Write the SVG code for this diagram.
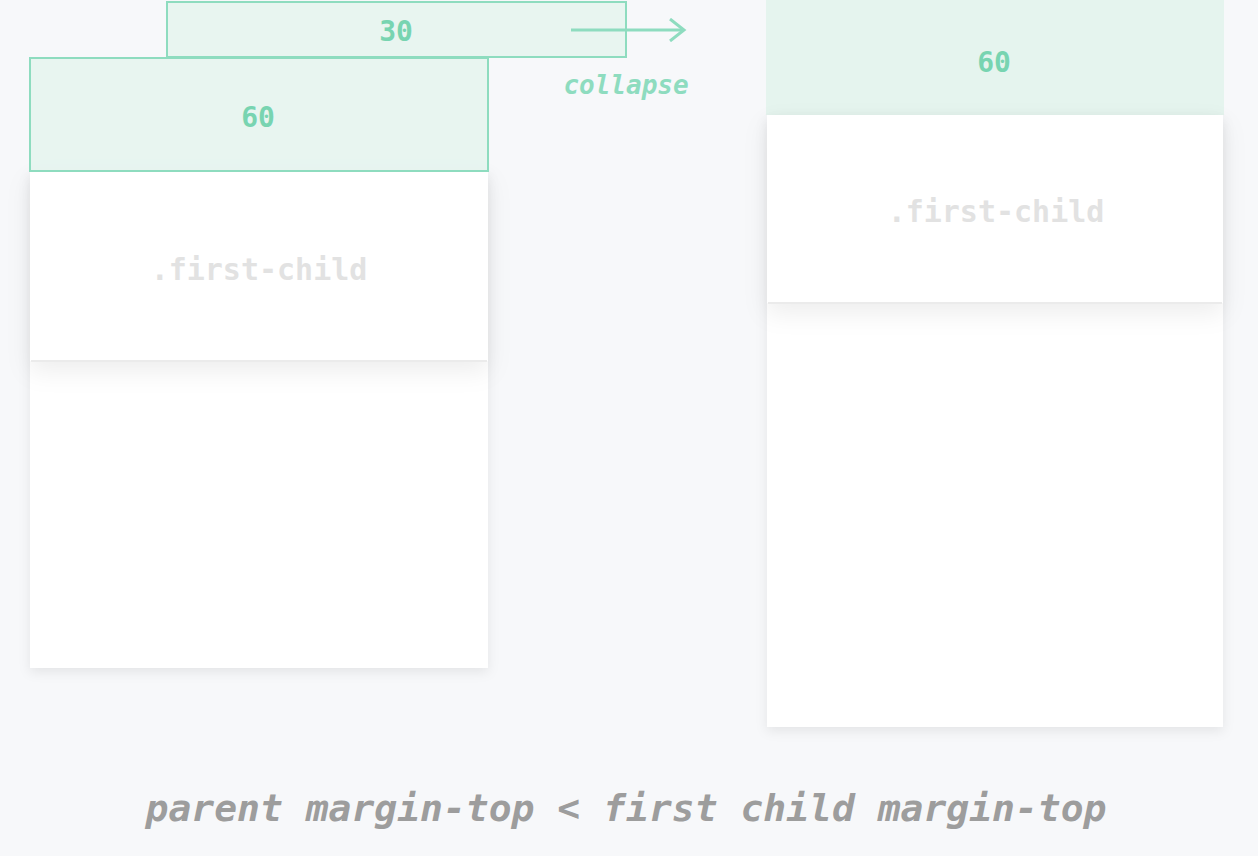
<svg xmlns="http://www.w3.org/2000/svg" width="1258" height="856" viewBox="0 0 1258 856">
<style>
.mono{font-family:"DejaVu Sans Mono","Liberation Mono",monospace;font-weight:bold}
.num{fill:#78d4b1;font-size:28px;text-anchor:middle}
.child{fill:#e2e2e2;font-size:30px;text-anchor:middle}
.margin{fill:#e5f4ee;fill-opacity:0.9;stroke:#8edcbf;stroke-width:2}
.box{fill:#ffffff}
.edge{stroke:#ebebeb;stroke-width:2}
</style>
<defs>
<filter id="sh" x="-10%" y="-10%" width="120%" height="130%">
<feDropShadow dx="0" dy="4" stdDeviation="6" flood-color="#000" flood-opacity="0.08"/>
</filter>
<filter id="sh2" x="-10%" y="-10%" width="120%" height="160%">
<feDropShadow dx="0" dy="10" stdDeviation="12" flood-color="#000" flood-opacity="0.07"/>
</filter>
<marker id="ah" markerWidth="20" markerHeight="24" refX="17" refY="12" orient="auto" markerUnits="userSpaceOnUse">
<path d="M3,1 L17,12 L3,23" fill="none" stroke="#8edcbf" stroke-width="3"/>
</marker>
</defs>
<rect width="1258" height="856" fill="#f7f8fa"/>

<g id="left-parent">
<rect class="box" x="30" y="171" width="458" height="497" filter="url(#sh)"/>
</g>
<g id="left-first-child">
<rect class="box" x="30" y="171" width="458" height="190" filter="url(#sh2)"/>
<line class="edge" x1="31" y1="361" x2="487" y2="361"/>
<text class="mono child" x="259" y="280">.first-child</text>
</g>
<g id="left-child-margin">
<rect class="margin" x="30" y="58" width="458" height="113"/>
<text class="mono num" x="258" y="127">60</text>
</g>
<g id="left-parent-margin">
<rect class="margin" x="167" y="2" width="459" height="55"/>
<text class="mono num" x="396" y="41">30</text>
</g>

<g id="connectors">
<line x1="571" y1="30" x2="684" y2="30" stroke="#8edcbf" stroke-width="3" marker-end="url(#ah)"/>
<text class="mono" x="626" y="94" font-style="italic" font-size="26" fill="#8edcbf" text-anchor="middle">collapse</text>
</g>

<g id="right-margin">
<rect x="766" y="0" width="458" height="115" fill="#e5f4ee"/>
<text class="mono num" x="994" y="72">60</text>
</g>
<g id="right-parent">
<rect class="box" x="767" y="115" width="456" height="612" filter="url(#sh)"/>
</g>
<g id="right-first-child">
<rect class="box" x="767" y="115" width="456" height="188" filter="url(#sh2)"/>
<line class="edge" x1="768" y1="303" x2="1222" y2="303"/>
<text class="mono child" x="996" y="222">.first-child</text>
</g>

<g id="caption">
<text class="mono" x="626" y="821" font-style="italic" font-size="38" fill="#9d9d9d" text-anchor="middle">parent margin-top &lt; first child margin-top</text>
</g>
</svg>
